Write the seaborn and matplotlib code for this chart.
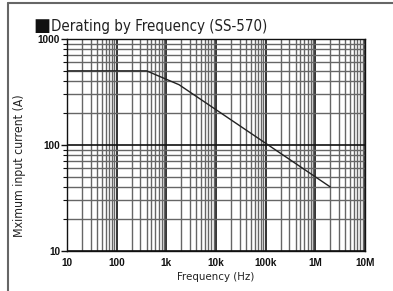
import pandas as pd
import seaborn as sns
import matplotlib.pyplot as plt
from matplotlib.lines import Line2D
from matplotlib.ticker import LogLocator, FixedLocator, NullFormatter

sns.set_style("white")
plt.rcParams['font.family'] = ['Liberation Sans', 'DejaVu Sans']

# derating curve (Hz, A)
frequency = [10, 400, 1800, 2000000]
max_current = [500, 500, 370, 40]

x_ticks = [10, 100, 1000, 10000, 100000, 1000000, 10000000]
x_labels = ['10', '100', '1k', '10k', '100k', '1M', '10M']
y_ticks = [10, 100, 1000]
y_labels = ['10', '100', '1000']

data = pd.DataFrame({'frequency': frequency, 'current': max_current})

fig = plt.figure(figsize=(3.93, 2.91), dpi=100)
ax = fig.add_axes([0.1705, 0.1385, 0.7583, 0.7275])

sns.lineplot(x='frequency', y='current', data=data, ax=ax,
             color='#222222', linewidth=1.0)

ax.set_xscale('log')
ax.set_yscale('log')
ax.set_xlim(10, 10000000)
ax.set_ylim(10, 1000)

ax.xaxis.set_major_locator(FixedLocator(x_ticks))
ax.set_xticklabels(x_labels)
ax.yaxis.set_major_locator(FixedLocator(y_ticks))
ax.set_yticklabels(y_labels)
ax.xaxis.set_minor_locator(LogLocator(base=10, subs=range(2, 10), numticks=20))
ax.yaxis.set_minor_locator(LogLocator(base=10, subs=range(2, 10), numticks=20))
ax.xaxis.set_minor_formatter(NullFormatter())
ax.yaxis.set_minor_formatter(NullFormatter())

ax.grid(which='major', color='#111111', linewidth=1.2)
ax.grid(which='minor', color='#666666', linewidth=1.0)
ax.set_axisbelow(True)

for side in ['left', 'right', 'top', 'bottom']:
    ax.spines[side].set_color('#111111')
    ax.spines[side].set_linewidth(1.0)

ax.tick_params(axis='x', which='both', length=0, pad=5)
ax.tick_params(axis='y', which='major', length=4, width=1, color='#111111',
               pad=1, left=True)
ax.tick_params(axis='y', which='minor', length=3, width=0.8,
               color='#111111', left=True)
for lab in ax.get_xticklabels() + ax.get_yticklabels():
    lab.set_fontweight('bold')
    lab.set_fontsize(7.2)
    lab.set_color('#111111')

narrow = ['DejaVu Sans']
ax.set_xlabel('Frequency (Hz)', fontsize=8.2, family=narrow, stretch='condensed',
              color='#222222', labelpad=3)
ax.set_ylabel('Mximum input current (A)', fontsize=8.8, family=narrow,
              stretch='condensed', color='#222222')
ax.yaxis.set_label_coords(-0.138, 0.40)

fig.text(0.084, 1 - 31 / 291, '■', fontsize=13, color='#111111',
         va='baseline', family=['DejaVu Sans'])
fig.text(0.13, 1 - 31 / 291, 'Derating by Frequency (SS-570)', fontsize=10.8,
         color='#222222', va='baseline', family=narrow, stretch='condensed')

# page frame: top and left rules
fig.add_artist(Line2D([7.5 / 393, 1], [1 - 3 / 291, 1 - 3 / 291],
                      color='#666666', linewidth=1.5))
fig.add_artist(Line2D([7.5 / 393, 7.5 / 393], [0, 1 - 3 / 291],
                      color='#666666', linewidth=1.5))

plt.savefig('out.png', dpi=100)
